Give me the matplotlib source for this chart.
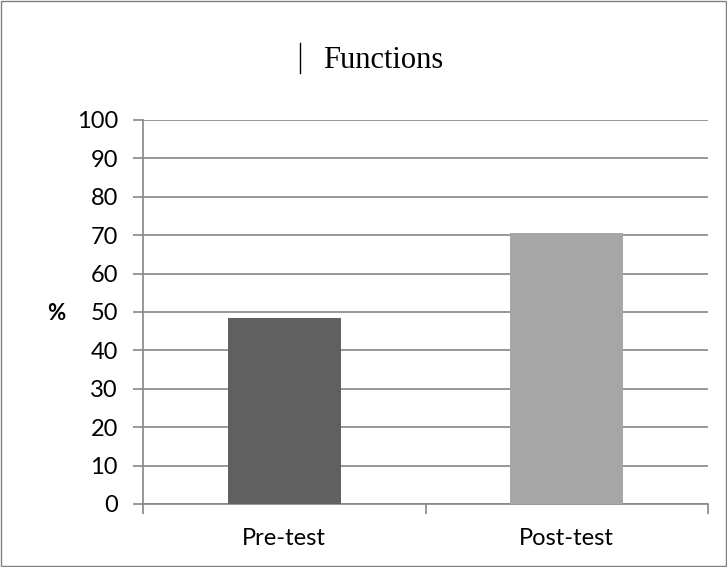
import matplotlib
matplotlib.use("Agg")
import matplotlib.pyplot as plt
from matplotlib.patches import Rectangle
from matplotlib.lines import Line2D

categories = ["Pre-test", "Post-test"]
values = [48.4, 70.6]
colors = ["#606060", "#a6a6a6"]
yticks = list(range(0, 101, 10))

W, H = 727, 567
fig = plt.figure(figsize=(7.27, 5.67), dpi=100)
fig.patches.append(Rectangle((0.001, 0.001), 0.997, 0.997, transform=fig.transFigure,
                             fill=False, edgecolor="#808080", linewidth=1))
ax = fig.add_axes([143 / W, 1 - 504 / H, (708 - 143) / W, (504 - 120) / H])

x = [0.5, 1.5]
ax.bar(x, values, width=0.4, color=colors, zorder=3)
ax.set_xlim(0, 2)
ax.set_ylim(0, 100)
ax.set_yticks(yticks)
ax.set_yticklabels([str(t) for t in yticks], fontsize=17, family="Lato")
ax.yaxis.grid(True, color="#868686", linewidth=1.2, zorder=0)
ax.set_axisbelow(True)

ax.set_xticks([0, 1, 2])
ax.set_xticklabels([])
ax.set_xticks(x, minor=True)
ax.set_xticklabels(categories, minor=True, fontsize=17, family="Lato")
ax.tick_params(axis="x", which="minor", length=0, pad=17)
ax.tick_params(axis="x", which="major", length=7, color="#868686", width=1.2)
ax.tick_params(axis="y", length=7, color="#868686", width=1.2, pad=11)

for s in ["top", "right"]:
    ax.spines[s].set_visible(False)
for s in ["left", "bottom"]:
    ax.spines[s].set_color("#868686")
    ax.spines[s].set_linewidth(1.2)

fig.text(56 / W, 1 - 313 / H, "%", ha="center", va="center", fontsize=16,
         fontweight="bold", family="Lato")

fig.text(383 / W, 1 - 60 / H, "Functions", ha="center", va="center", fontsize=22,
         family="Liberation Serif")
fig.add_artist(Line2D([300 / W, 300 / W], [1 - 43 / H, 1 - 73 / H],
                      transform=fig.transFigure, color="black", linewidth=1))

fig.savefig("out.png", dpi=100)
